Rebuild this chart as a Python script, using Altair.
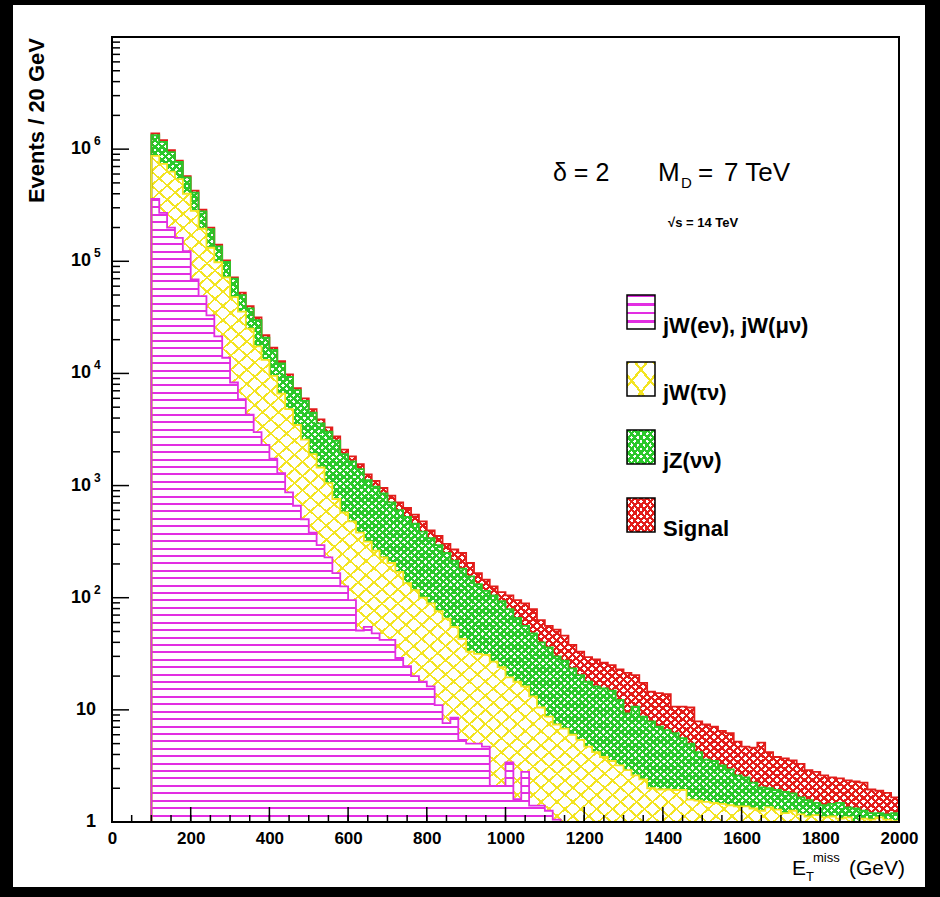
import altair as alt
import numpy as np
import pandas as pd

# ---------------- data ----------------
# lower edges of the 20 GeV bins
ET_LOW = list(range(100, 2000, 20))
ET_MAX = 2000

# upper edge of each stacked layer, events / 20 GeV
top_wlnu = [3.6e5, 2.7e5, 2.0e5, 1.62e5, 1.23e5, 6.9e4, 4.9e4, 3.3e4, 2.14e4, 1.38e4,
            8.3e3, 5.9e3, 4.3e3, 3.0e3, 2.3e3, 1.74e3, 1.29e3, 871, 661, 501,
            380, 295, 229, 166, 126, 95, 51, 55, 48, 42,
            42, 29, 24.5, 20, 17.8, 16.2, 11, 7.6, 8.5, 5.4,
            5.0, 5.0, 4.7, 2.1, 2.1, 3.4, 1.6, 2.8, 1.4, 1.4,
            1.26, 1.05, 0, 0, 0, 0, 0, 0, 0, 0,
            0, 0, 0, 0, 0, 0, 0, 0, 0, 0,
            0, 0, 0, 0, 0, 0, 0, 0, 0, 0,
            0, 0, 0, 0, 0, 0, 0, 0, 0, 0,
            0, 0, 0, 0, 0]
top_wtau = [8.7e5, 7.4e5, 6.3e5, 5.4e5, 4.0e5, 2.82e5, 1.95e5, 1.32e5, 9.8e4, 7.2e4,
            4.8e4, 3.55e4, 2.51e4, 1.74e4, 1.32e4, 9.5e3, 6.6e3, 4.8e3, 3.47e3, 2.57e3,
            1.91e3, 1.45e3, 1.05e3, 759, 575, 479, 380, 316, 263, 229,
            204, 170, 135, 117, 100, 89, 76, 65, 55, 43,
            33, 31.6, 30.9, 26.9, 24, 19.5, 17.8, 16.2, 13.2, 10.5,
            8.7, 7.4, 6.8, 6.0, 5.4, 4.7, 4.2, 3.8, 3.5, 3.2,
            2.9, 2.6, 2.4, 2.0, 1.95, 1.95, 1.93, 1.93, 1.58, 1.55,
            1.51, 1.48, 1.45, 1.41, 1.38, 1.38, 1.32, 1.26, 1.35, 1.29,
            1.2, 1.26, 1.17, 1.12, 1.15, 1.1, 1.12, 1.07, 1.1, 0.8,
            1.07, 1.05, 1.1, 1.05, 1.02]
top_znn = [1.33e6, 1.16e6, 9.4e5, 7.7e5, 5.6e5, 4.1e5, 2.79e5, 1.93e5, 1.36e5, 9.9e4,
           7.0e4, 5.0e4, 3.8e4, 2.99e4, 2.09e4, 1.62e4, 1.23e4, 9.3e3, 7.1e3, 5.7e3,
           4.47e3, 3.59e3, 3.02e3, 2.51e3, 1.91e3, 1.64e3, 1.40e3, 1.12e3, 977, 851,
           708, 603, 525, 457, 389, 339, 295, 251, 214, 182,
           155, 132, 115, 105, 93, 79, 66, 56, 48, 40,
           36, 30, 27.5, 23.4, 20.4, 17.8, 16.2, 15.5, 14.8, 12.3,
           9.3, 10.7, 8.7, 7.9, 7.1, 6.6, 6.2, 5.6, 5.0, 4.2,
           3.6, 3.5, 3.2, 2.95, 2.6, 2.5, 2.24, 2.04, 2.0, 1.93,
           1.86, 1.8, 1.66, 1.57, 1.48, 1.41, 1.45, 1.48, 1.35, 1.32,
           1.26, 1.2, 1.2, 1.17, 1.2]
top_signal = [1.38e6, 1.20e6, 9.8e5, 7.9e5, 5.75e5, 4.27e5, 2.88e5, 2.0e5, 1.41e5, 1.02e5,
              7.2e4, 5.25e4, 3.98e4, 3.16e4, 2.19e4, 1.70e4, 1.29e4, 9.8e3, 7.4e3, 6.0e3,
              4.8e3, 3.9e3, 3.3e3, 2.75e3, 2.09e3, 1.82e3, 1.55e3, 1.26e3, 1.10e3, 955,
              813, 708, 631, 550, 479, 398, 355, 302, 269, 251,
              204, 166, 145, 126, 112, 105, 95, 89, 79, 63,
              56, 52, 46, 38, 33, 29.5, 28.2, 26.3, 25.1, 22.9,
              21.4, 20.4, 17.4, 14.5, 14.1, 13.8, 10.7, 10.7, 10.5, 7.9,
              7.4, 7.1, 6.5, 6.2, 5.2, 4.7, 4.6, 5.1, 4.2, 3.8,
              3.7, 3.55, 3.3, 2.9, 2.8, 2.6, 2.5, 2.45, 2.35, 2.3,
              2.24, 1.95, 1.9, 1.82, 1.66]

LEGEND_LABELS = ["jW(eν), jW(μν)", "jW(τν)", "jZ(νν)", "Signal"]
X_LABELS = [0, 200, 400, 600, 800, 1000, 1200, 1400, 1600, 1800, 2000]
X_MINOR = list(range(0, 2001, 50))
Y_DECADES = [1, 10, 100, 1e3, 1e4, 1e5, 1e6, 1e7]
Y_PLAIN_VALUES = [1, 10]
Y_PLAIN_TEXT = ["1", "10"]
Y_POW_VALUES = [1e2, 1e3, 1e4, 1e5, 1e6]
Y_POW_EXP = ["2", "3", "4", "5", "6"]

# ---------------- style ----------------
W, H = 787, 785
FLOOR = 0.1
FONT = "Liberation Sans"
CLEAR = "rgba(255,255,255,0)"
MAG = "#e22ee2"
YEL = "#f3e421"
GRN = "#2ac82a"
RED = "#e21d1a"

xs = alt.Scale(domain=[0, ET_MAX], nice=False, zero=False)
ys = alt.Scale(type="log", domain=[1, 1e7], nice=False, clamp=True)
X_ENC = alt.X("x:Q", scale=xs,
              axis=alt.Axis(values=X_LABELS, format="d", labelFontSize=17, labelFontWeight="bold",
                            labelFont=FONT, labelColor="black", labelPadding=8,
                            domain=False, ticks=False, grid=False, title=None,
                            labelFlush=False, labelOverlap=False, zindex=2))


def stripes(color, n, frac, x1, y1, x2, y2):
    stops = []
    for k in range(n):
        a = round(k / n, 6)
        b = round((k + frac) / n, 6)
        c = round((k + 1) / n, 6)
        stops += [alt.GradientStop(color=color, offset=a),
                  alt.GradientStop(color=color, offset=b),
                  alt.GradientStop(color=CLEAR, offset=b),
                  alt.GradientStop(color=CLEAR, offset=c)]
    return alt.LinearGradient(gradient="linear", stops=stops, x1=x1, y1=y1, x2=x2, y2=y2)


def cross(color, n, frac):
    return [stripes(color, n, frac, 0, 0, 1, 1), stripes(color, n, frac, 1, 0, 0, 1)]


def band_df(lower, upper):
    lo = list(lower) + [lower[-1]]
    hi = list(upper) + [upper[-1]]
    return pd.DataFrame({"x": ET_LOW + [ET_MAX],
                         "lo": np.maximum(lo, FLOOR), "hi": np.maximum(hi, FLOOR)})


def outline_df(upper):
    xv = [ET_LOW[0]] + ET_LOW + [ET_MAX, ET_MAX]
    yv = [FLOOR] + list(upper) + [upper[-1], FLOOR]
    return pd.DataFrame({"x": xv, "y": np.maximum(yv, FLOOR), "i": list(range(len(xv)))})


one = pd.DataFrame({"a": [0]})
layers = []

# white page behind the plot
layers.append(alt.Chart(one).mark_rect(color="white").encode(
    x=alt.value(-99), x2=alt.value(813), y=alt.value(-32), y2=alt.value(850)))

floor_list = [0] * len(ET_LOW)
bands = [
    (top_znn, top_signal, cross(RED, 190, 0.42)),
    (top_wtau, top_znn, cross(GRN, 210, 0.5)),
    (top_wlnu, top_wtau, cross(YEL, 94, 0.17)),
    (floor_list, top_wlnu, [stripes(MAG, 84, 0.27, 0, 0, 0, 1)]),
]
for lower, upper, grads in bands:
    df = band_df(lower, upper)
    for g in grads:
        layers.append(alt.Chart(df).mark_area(interpolate="step-after", fill=g, strokeWidth=0).encode(
            x=X_ENC, y=alt.Y("lo:Q", scale=ys, axis=None), y2="hi:Q"))

for upper, col in [(top_signal, RED), (top_znn, GRN), (top_wtau, YEL), (top_wlnu, MAG)]:
    layers.append(alt.Chart(outline_df(upper)).mark_line(
        interpolate="step-after", color=col, strokeWidth=1.8).encode(
        x=X_ENC, y=alt.Y("y:Q", scale=ys, axis=None), order="i:Q"))

# inward ticks
y_minor = [m * d for d in Y_DECADES[:-1] for m in range(2, 10)]
layers.append(alt.Chart(pd.DataFrame({"v": Y_DECADES})).mark_rule(color="black", strokeWidth=1.5).encode(
    y=alt.Y("v:Q", scale=ys, axis=None), x=alt.value(0), x2=alt.value(17)))
layers.append(alt.Chart(pd.DataFrame({"v": y_minor})).mark_rule(color="black", strokeWidth=1.5).encode(
    y=alt.Y("v:Q", scale=ys, axis=None), x=alt.value(0), x2=alt.value(8)))
layers.append(alt.Chart(pd.DataFrame({"x": X_LABELS})).mark_rule(color="black", strokeWidth=1.5).encode(
    x=X_ENC, y=alt.value(H), y2=alt.value(H - 15)))
layers.append(alt.Chart(pd.DataFrame({"x": X_MINOR})).mark_rule(color="black", strokeWidth=1.5).encode(
    x=X_ENC, y=alt.value(H), y2=alt.value(H - 7)))

# frame
layers.append(alt.Chart(one).mark_rect(filled=False, stroke="black", strokeWidth=2).encode(
    x=alt.value(0), x2=alt.value(W), y=alt.value(0), y2=alt.value(H)))

# y tick labels
layers.append(alt.Chart(pd.DataFrame({"v": Y_PLAIN_VALUES, "t": Y_PLAIN_TEXT})).mark_text(
    align="right", baseline="middle", font=FONT, fontSize=18, fontWeight="bold", color="black").encode(
    y=alt.Y("v:Q", scale=ys, axis=None), x=alt.value(-16), text="t:N"))
pow_df = pd.DataFrame({"v": Y_POW_VALUES, "t": ["10"] * len(Y_POW_VALUES), "e": Y_POW_EXP})
layers.append(alt.Chart(pow_df).mark_text(
    align="right", baseline="middle", font=FONT, fontSize=18, fontWeight="bold", color="black").encode(
    y=alt.Y("v:Q", scale=ys, axis=None), x=alt.value(-21), text="t:N"))
layers.append(alt.Chart(pow_df).mark_text(
    align="left", baseline="middle", font=FONT, fontSize=12, fontWeight="bold", color="black", dy=-8).encode(
    y=alt.Y("v:Q", scale=ys, axis=None), x=alt.value(-18), text="e:N"))

# axis titles
layers.append(alt.Chart(one).mark_text(
    text="Events / 20 GeV", angle=270, align="right", baseline="middle",
    font=FONT, fontSize=22, fontWeight="bold", color="black").encode(x=alt.value(-75), y=alt.value(1)))


def txt(s, x, y, size, weight="normal", baseline="alphabetic"):
    return alt.Chart(one).mark_text(text=s, align="left", baseline=baseline, font=FONT,
                                    fontSize=size, fontWeight=weight, color="black").encode(
        x=alt.value(x), y=alt.value(y))


layers += [txt("E", 680, 838, 21), txt("T", 694, 844, 13), txt("miss", 701, 825, 13),
           txt("(GeV)", 737, 838, 21)]

# physics annotations
layers += [txt("δ = 2", 441, 144, 25), txt("M", 546, 144, 26), txt("D", 569, 151, 15),
           txt("=", 586, 144, 26), txt("7 TeV", 612, 144, 26),
           txt("√s = 14 TeV", 556, 190, 13, "bold")]

# legend
BOX_X0, BOX_X1, BOX_H = 515, 543, 34
box_tops = [258, 325, 393, 461]
legend_fills = [
    [stripes(MAG, 4, 0.25, 0, 0, 0, 1)],
    cross(YEL, 3, 0.16),
    cross(GRN, 9, 0.5),
    cross(RED, 9, 0.45),
]
for top, fills, label in zip(box_tops, legend_fills, LEGEND_LABELS):
    for g in fills:
        layers.append(alt.Chart(one).mark_rect(fill=g, strokeWidth=0).encode(
            x=alt.value(BOX_X0), x2=alt.value(BOX_X1), y=alt.value(top), y2=alt.value(top + BOX_H)))
    layers.append(alt.Chart(one).mark_rect(filled=False, stroke="black", strokeWidth=1.5).encode(
        x=alt.value(BOX_X0), x2=alt.value(BOX_X1), y=alt.value(top), y2=alt.value(top + BOX_H)))
    layers.append(txt(label, 551, top + 31, 22, "bold", "middle"))

chart = alt.layer(*layers).properties(
    width=W, height=H,
    autosize=alt.AutoSizeParams(type="none"),
    padding={"left": 112, "top": 37, "right": 41, "bottom": 75},
    background="black",
).configure_view(strokeWidth=0)

chart.save("out.html", embed_options={"renderer": "svg", "actions": False})
